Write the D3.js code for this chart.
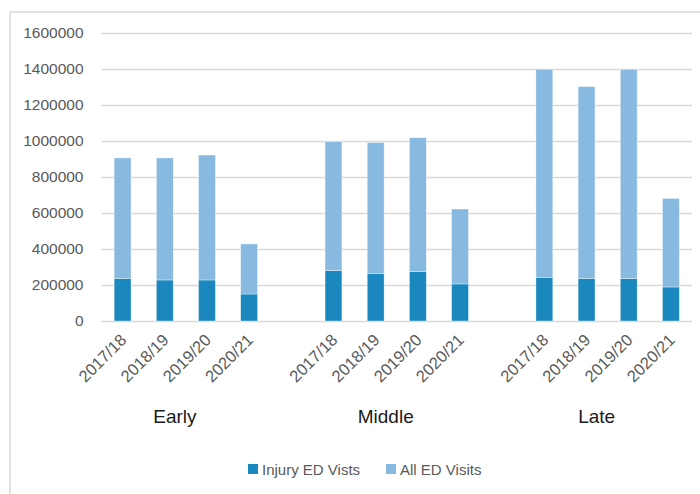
<!DOCTYPE html>
<html><head><meta charset="utf-8">
<script src="https://cdn.jsdelivr.net/npm/d3@7"></script>
<style>
html,body{margin:0;padding:0;background:#fff;}
svg{display:block;font-family:"Liberation Sans",sans-serif;}
</style></head>
<body>
<svg id="chart" width="700" height="494"></svg>
<script>
const groups = ["Early", "Middle", "Late"];
const years = ["2017/18", "2018/19", "2019/20", "2020/21"];
const injuryVisits = [
  [237000, 228000, 228000, 150000],
  [280000, 265000, 274000, 206000],
  [243000, 237000, 235000, 189000]
];
const allVisits = [
  [669000, 678000, 694000, 278000],
  [716000, 726000, 744000, 416000],
  [1155000, 1065000, 1163000, 492000]
];
const seriesNames = ["Injury ED Vists", "All ED Visits"];
const seriesColors = ["#1b87bf", "#88b9e0"];
const yTicks = [0, 200000, 400000, 600000, 800000, 1000000, 1200000, 1400000, 1600000];

// Build category slots (with blank separators between groups)
const rows = [];
const slots = [];
groups.forEach((g, gi) => {
  years.forEach((yr, yi) => {
    const key = g + "|" + yr;
    slots.push(key);
    rows.push({key, group: g, year: yr, injury: injuryVisits[gi][yi], all: allVisits[gi][yi]});
  });
  if (gi < groups.length - 1) slots.push("gap" + gi);
});

const svg = d3.select("#chart");
const plotLeft = 101.5, plotRight = 692, plotTop = 33, plotBottom = 321;

const x = d3.scaleBand().domain(slots).range([plotLeft, plotRight]).paddingInner(0.6).paddingOuter(0.3);
const y = d3.scaleLinear().domain([0, 1600000]).range([plotBottom, plotTop]);

// frame (top and left border lines)
svg.append("line").attr("x1", 10).attr("x2", 700).attr("y1", 12).attr("y2", 12)
  .attr("stroke", "#d9d9d9").attr("stroke-width", 1.5);
svg.append("line").attr("x1", 10).attr("x2", 10).attr("y1", 12).attr("y2", 494)
  .attr("stroke", "#d9d9d9").attr("stroke-width", 1.5);

// gridlines
const yAxis = d3.axisLeft(y).tickValues(yTicks).tickSize(-(plotRight - plotLeft)).tickFormat(d3.format("d"));
const gy = svg.append("g").attr("transform", `translate(${plotLeft},0)`).call(yAxis);
gy.select(".domain").remove();
gy.selectAll(".tick line").attr("stroke", "#d9d9d9").attr("stroke-width", 1.5);
gy.selectAll(".tick text").attr("x", -18).attr("fill", "#595959")
  .style("font-size", "15.5px").style("font-family", "'Liberation Sans',sans-serif");

// stacked bars
const stack = d3.stack().keys(["injury", "all"]);
const stacked = stack(rows);
svg.append("g").selectAll("g").data(stacked).join("g")
  .attr("fill", (d, i) => seriesColors[i])
  .selectAll("rect").data(d => d).join("rect")
  .attr("x", d => x(d.data.key))
  .attr("width", x.bandwidth())
  .attr("y", d => y(d[1]))
  .attr("height", d => y(d[0]) - y(d[1]))
  .attr("stroke", "rgba(255,255,255,0.6)").attr("stroke-width", 0.6);

// x axis (rotated year labels)
const xAxis = d3.axisBottom(x).tickValues(rows.map(r => r.key)).tickSize(0)
  .tickFormat(k => k.split("|")[1]);
const gx = svg.append("g").attr("transform", `translate(0,${plotBottom})`).call(xAxis);
gx.select(".domain").remove();
gx.selectAll(".tick text")
  .attr("text-anchor", "end")
  .attr("dy", 0).attr("y", 0)
  .attr("transform", "translate(5,20) rotate(-45)")
  .attr("fill", "#595959")
  .style("font-size", "16.5px").style("font-family", "'Liberation Sans',sans-serif");

// group labels
svg.append("g").selectAll("text").data(groups).join("text")
  .attr("x", g => {
    const k1 = g + "|" + years[0], k2 = g + "|" + years[years.length - 1];
    return (x(k1) + x(k2) + x.bandwidth()) / 2 - 11;
  })
  .attr("y", 423)
  .attr("text-anchor", "middle")
  .attr("fill", "#1a1a1a")
  .style("font-size", "19px").style("font-family", "'Liberation Sans',sans-serif")
  .text(g => g);

// legend
const legendX = [248, 386];
const lg = svg.append("g").selectAll("g").data(seriesNames).join("g")
  .attr("transform", (d, i) => `translate(${legendX[i]},464)`);
lg.append("rect").attr("width", 10).attr("height", 10).attr("fill", (d, i) => seriesColors[i]);
lg.append("text").attr("x", 14).attr("y", 11).attr("fill", "#595959")
  .style("font-size", "15px").style("font-family", "'Liberation Sans',sans-serif")
  .text(d => d);
</script>
</body></html>
